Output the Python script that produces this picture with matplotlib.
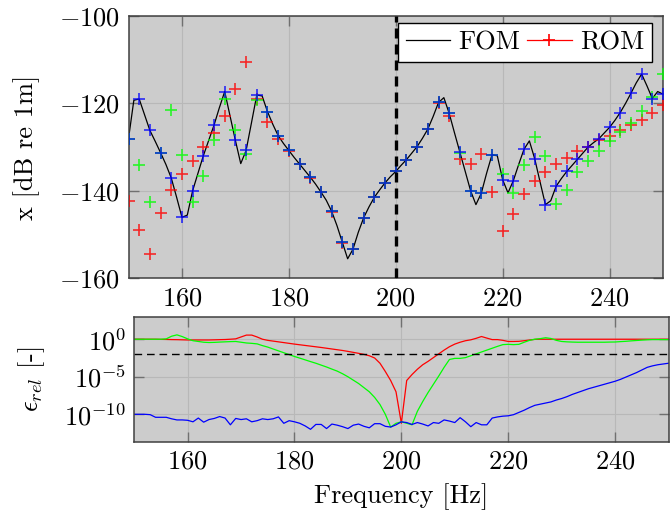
import numpy as np
import matplotlib
matplotlib.use("Agg")
from matplotlib import pyplot as plt
from matplotlib.lines import Line2D

# frequency grids [Hz]
freq_fom = np.arange(150, 251)
freq_rom = np.arange(150, 251, 2)

# FOM response [dB re 1m], 1 Hz steps
fom = [-128.1, -119.3, -119.0, -122.6, -126.2, -128.7, -131.3, -134.0, -137.1, -141.5,
       -146.1, -145.6, -140.0, -136.0, -132.0, -128.5, -125.0, -121.0, -117.3, -122.9,
       -128.5, -133.8, -130.8, -124.5, -118.1, -118.3, -121.9, -124.8, -127.4, -129.2,
       -130.8, -132.4, -133.9, -135.4, -136.9, -138.5, -140.3, -142.2, -144.7, -148.0,
       -151.8, -155.6, -153.4, -149.5, -146.2, -143.7, -141.5, -139.8, -138.2, -136.8,
       -135.6, -134.2, -132.9, -131.4, -129.9, -128.0, -125.9, -123.0, -119.8, -118.7,
       -122.3, -126.8, -131.2, -135.6, -140.0, -143.2, -140.6, -136.0, -131.8, -132.0,
       -137.5, -140.5, -137.7, -134.0, -130.5, -128.6, -132.7, -138.0, -143.2, -142.3,
       -139.0, -137.2, -135.6, -134.2, -132.8, -131.4, -130.0, -129.0, -128.1, -126.8,
       -125.5, -123.9, -122.1, -120.0, -117.7, -115.3, -113.3, -116.0, -118.9, -117.3,
       -117.9]

# ROM responses, 2 Hz steps
rom_red = [-142.4, -148.9, -154.4, -145.1, -139.9, -136.2, -133.2, -130.0, -126.8, -122.9,
           -116.7, -110.5, -119.1, -124.3, -128.2, -131.0, -134.0, -137.0, -140.4, -144.8,
           -151.9, -153.4, -146.2, -141.5, -138.2, -135.6, -132.9, -129.9, -125.9, -119.9,
           -123.0, -132.8, -134.0, -131.7, -140.4, -149.2, -145.3, -140.7, -137.8, -135.7,
           -134.0, -132.5, -131.0, -129.9, -128.5, -127.4, -126.2, -124.9, -123.8, -122.1,
           -120.4]
rom_green = [-128.1, -134.2, -142.5, -131.3, -121.5, -131.9, -142.5, -136.6, -128.3, -119.1,
             -126.1, -131.5, -119.3, -121.9, -127.4, -130.8, -133.9, -136.9, -140.3, -144.7,
             -151.8, -153.4, -146.2, -141.5, -138.2, -135.6, -132.9, -129.9, -125.9, -119.8,
             -122.3, -131.3, -140.0, -140.5, -131.8, -136.2, -140.6, -134.1, -127.7, -132.0,
             -143.0, -139.8, -135.8, -133.2, -130.9, -128.7, -126.5, -124.4, -121.7, -118.5,
             -113.3]
rom_blue = [-128.1, -119.0, -126.2, -131.3, -137.1, -146.1, -140.0, -132.0, -125.0, -117.3,
            -128.5, -130.8, -118.1, -121.9, -127.4, -130.8, -133.9, -136.9, -140.3, -144.7,
            -151.8, -153.4, -146.2, -141.5, -138.2, -135.6, -132.9, -129.9, -125.9, -119.8,
            -122.3, -131.2, -140.0, -140.6, -131.8, -137.5, -137.7, -130.5, -132.7, -143.2,
            -139.0, -135.6, -132.8, -130.0, -128.1, -125.5, -122.1, -117.7, -113.3, -118.9,
            -117.9]

# relative errors, log10, 1 Hz steps
err_red_log = [0.0, 0.0, 0.0, 0.0, 0.0, -0.02, -0.03, -0.05, -0.06, -0.08,
               -0.1, -0.1, -0.1, -0.1, -0.1, -0.08, -0.06, -0.04, 0.0, 0.05,
               0.3, 0.55, 0.55, 0.3, 0.0, -0.15, -0.25, -0.35, -0.45, -0.55,
               -0.65, -0.74, -0.83, -0.92, -1.01, -1.1, -1.2, -1.3, -1.4, -1.5,
               -1.62, -1.75, -1.88, -2.02, -2.2, -2.5, -3.2, -4.3, -5.5, -7.0,
               -11.2, -5.5, -4.7, -4.0, -3.4, -2.95, -2.45, -1.95, -1.45, -1.0,
               -0.65, -0.4, -0.2, -0.08, 0.12, 0.36, 0.15, -0.05, -0.05, -0.15,
               -0.3, -0.3, -0.28, -0.2, -0.1, -0.02, 0.0, 0.0, 0.0, 0.0,
               0.0, 0.0, 0.0, 0.0, 0.0, 0.0, 0.0, 0.0, 0.0, 0.0,
               0.0, 0.0, 0.0, 0.0, 0.0, 0.0, 0.0, 0.0, 0.0, 0.0,
               0.0]
err_green_log = [0.0, 0.0, 0.0, 0.0, 0.0, 0.0, 0.05, 0.4, 0.58, 0.35,
                 0.05, -0.2, -0.3, -0.4, -0.44, -0.42, -0.38, -0.35, -0.32, -0.3,
                 -0.4, -0.5, -0.55, -0.62, -0.85, -1.05, -1.3, -1.55, -1.8, -2.05,
                 -2.3, -2.52, -2.75, -2.98, -3.2, -3.45, -3.7, -3.98, -4.25, -4.6,
                 -5.0, -5.45, -5.9, -6.45, -7.0, -7.75, -8.7, -10.0, -11.7, -11.2,
                 -11.0, -11.2, -11.4, -9.6, -8.3, -7.1, -6.0, -4.9, -3.75, -2.7,
                 -2.55, -2.55, -2.45, -2.2, -1.95, -1.7, -1.45, -1.2, -0.95, -0.72,
                 -0.68, -0.72, -0.68, -0.4, -0.15, 0.0, 0.08, 0.2, 0.1, -0.15,
                 -0.3, -0.35, -0.38, -0.4, -0.4, -0.4, -0.4, -0.4, -0.4, -0.38,
                 -0.37, -0.32, -0.28, -0.22, -0.17, -0.12, -0.08, -0.05, -0.05, -0.05,
                 -0.05]
err_blue_log = [-10.0, -10.0, -10.0, -10.05, -10.4, -10.4, -10.4, -10.6, -10.75, -10.75,
                -10.8, -11.0, -10.5, -11.05, -10.7, -10.55, -10.3, -10.5, -11.4, -10.55,
                -10.7, -10.6, -11.0, -10.85, -10.6, -10.7, -10.6, -10.35, -11.2, -10.85,
                -11.0, -11.2, -11.55, -12.0, -11.35, -11.35, -11.9, -11.3, -11.45, -11.65,
                -11.9, -11.45, -11.3, -11.6, -11.8, -11.25, -11.25, -11.6, -11.7, -11.4,
                -11.0, -11.1, -11.35, -11.1, -11.3, -11.55, -11.1, -11.2, -10.75, -10.9,
                -11.1, -10.45, -11.0, -11.65, -11.1, -11.4, -11.4, -10.5, -10.35, -10.25,
                -10.2, -10.05, -9.75, -9.45, -9.1, -8.8, -8.65, -8.5, -8.35, -8.1,
                -7.9, -7.65, -7.35, -7.1, -6.85, -6.6, -6.4, -6.2, -6.0, -5.8,
                -5.6, -5.35, -5.05, -4.75, -4.45, -4.1, -3.75, -3.55, -3.4, -3.3,
                -3.2]
tol = 1e-2
f_train = 200

BG = '#cccccc'
GRID = '#b8b8b8'


def style_axes(ax):
  ax.set_facecolor(BG)
  ax.grid(True, color=GRID, lw=0.8)
  ax.set_axisbelow(True)
  for s in ax.spines.values():
    s.set_color('#404040')
    s.set_linewidth(1.1)
  ax.tick_params(which='both', direction='in', top=True, right=True,
                 length=7, width=1.0, color='#707070', labelsize=19, pad=6)


def main():
  plt.rcParams['font.family'] = 'serif'
  plt.rcParams['font.serif'] = ['cmr10']
  plt.rcParams['mathtext.fontset'] = 'cm'
  plt.rcParams['axes.formatter.use_mathtext'] = True

  fig = plt.figure(figsize=(6.7, 5.11), dpi=100)
  ax1 = fig.add_axes([128.5 / 670, 1 - 278 / 511, 534.5 / 670, 262 / 511])
  ax2 = fig.add_axes([134.2 / 670, 1 - 441.7 / 511, 534.3 / 670, 125 / 511])

  # top: responses
  style_axes(ax1)
  mk = dict(ls='none', marker='+', ms=9, mew=1.2, alpha=0.8)
  ax1.plot(freq_fom, fom, color='k', lw=0.9, zorder=2)
  ax1.plot(freq_rom, rom_red, color='red', zorder=3, **mk)
  ax1.plot(freq_rom, rom_green, color='#00ff00', zorder=3, **mk)
  ax1.plot(freq_rom, rom_blue, color='blue', zorder=4, **mk)
  ax1.axvline(f_train, color='k', lw=2.4, ls=(0, (3, 1.8)), zorder=5)
  ax1.set_xlim(150, 250)
  ax1.set_ylim(-160, -100)
  ax1.set_xticks([160, 180, 200, 220, 240])
  ax1.set_yticks([-160, -140, -120, -100])
  ax1.set_ylabel('x [dB re 1m]', fontsize=19)
  ax1.yaxis.set_label_coords(-0.166, 0.5)

  handles = [Line2D([], [], color='k', lw=0.9),
             Line2D([], [], color='red', lw=0.9, marker='+', ms=9, mew=1.2)]
  leg = ax1.legend(handles, ['FOM', 'ROM'], ncol=2, loc='upper right',
                   bbox_to_anchor=(0.9794, 0.9744), borderaxespad=0,
                   fontsize=19, frameon=True, fancybox=False, framealpha=1,
                   edgecolor='k', handlelength=1.7, handletextpad=0.3,
                   columnspacing=0.25, borderpad=0.3)
  leg.get_frame().set_linewidth(1.0)
  leg.set_zorder(6)

  # bottom: relative errors
  style_axes(ax2)
  ax2.set_yscale('log')
  ax2.plot(freq_fom, 10.0 ** np.array(err_red_log), color='red', lw=0.9)
  ax2.plot(freq_fom, 10.0 ** np.array(err_green_log), color='#00ff00', lw=0.9)
  ax2.plot(freq_fom, 10.0 ** np.array(err_blue_log), color='blue', lw=0.9)
  ax2.plot([150, 250], [tol, tol], color='k', lw=1.0, ls=(0, (5.5, 3.5)))
  ax2.set_xlim(150, 250)
  ax2.set_ylim(10 ** -13.65, 10 ** 3)
  ax2.set_xticks([160, 180, 200, 220, 240])
  ax2.set_yticks([1e-10, 1e-5, 1e0])
  ax2.yaxis.set_minor_locator(matplotlib.ticker.NullLocator())
  ax2.set_ylabel(r'$\epsilon_{rel}$ [-]', fontsize=19)
  ax2.yaxis.set_label_coords(-0.163, 0.5)
  ax2.set_xlabel('Frequency [Hz]', fontsize=19, labelpad=7)

  fig.savefig('out.png', dpi=100)


if __name__ == '__main__':
  main()
